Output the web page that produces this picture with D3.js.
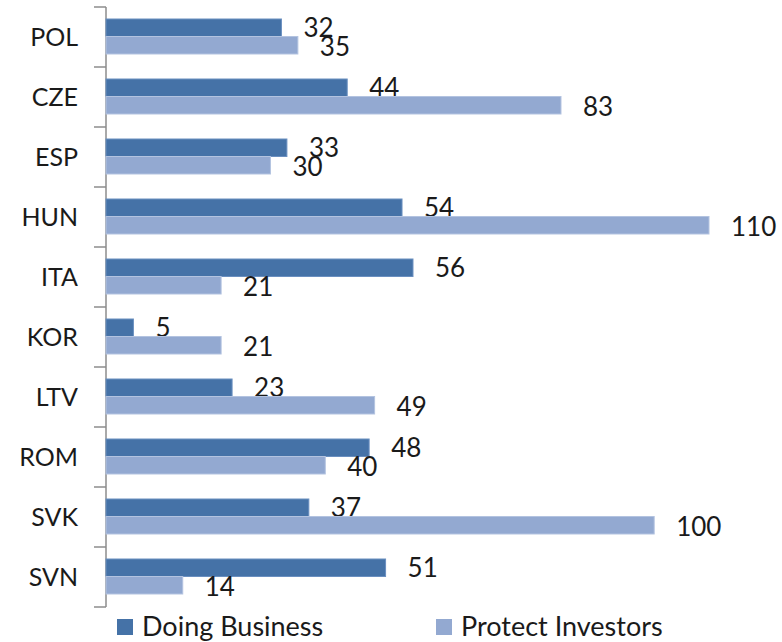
<!DOCTYPE html>
<html>
<head>
<meta charset="utf-8">
<script src="https://cdn.jsdelivr.net/npm/d3@7"></script>
<style>
  body { margin: 0; background: #fff; }
  svg { display: block; font-family: Lato, "Open Sans", sans-serif; }
</style>
</head>
<body>
<svg id="drawing_region"></svg>
<script>
const categories = ['POL', 'CZE', 'ESP', 'HUN', 'ITA', 'KOR', 'LTV', 'ROM', 'SVK', 'SVN'];
const seriesNames = ['Doing Business', 'Protect Investors'];
const doingBusiness = [32, 44, 33, 54, 56, 5, 23, 48, 37, 51];
const protectInvestors = [35, 83, 30, 110, 21, 21, 49, 40, 100, 14];
const colors = ['#4572a7', '#93a9d1'];

const width = 782, height = 642;

const svg = d3.select('#drawing_region')
    .attr('width', width)
    .attr('height', height);

const x = d3.scaleLinear()
    .domain([0, 110])
    .range([106, 709]);

const y = d3.scaleBand()
    .domain(categories)
    .range([7, 607]);

const sub = d3.scaleBand()
    .domain(seriesNames)
    .range([12, 47]);

const series = [doingBusiness, protectInvestors];

// axis line with ticks at category boundaries
const axis = svg.append('g');
axis.append('line')
    .attr('x1', 106).attr('x2', 106)
    .attr('y1', y.range()[0]).attr('y2', y.range()[1])
    .attr('stroke', '#8c8c8c')
    .attr('stroke-width', 1.5);

const bounds = categories.map(c => y(c)).concat([y.range()[1]]);
axis.selectAll('.tick')
    .data(bounds)
    .enter()
    .append('line')
    .attr('x1', 94).attr('x2', 106)
    .attr('y1', d => d).attr('y2', d => d)
    .attr('stroke', '#8c8c8c')
    .attr('stroke-width', 1.5);

axis.selectAll('.cat')
    .data(categories)
    .enter()
    .append('text')
    .attr('x', 78)
    .attr('y', d => y(d) + y.bandwidth() / 2)
    .attr('dy', '0.35em')
    .attr('text-anchor', 'end')
    .style('font-size', '25px')
    .style('fill', '#1a1a1a')
    .text(d => d);

// bars
series.forEach((vals, i) => {
    const g = svg.append('g');
    g.selectAll('rect')
        .data(vals)
        .enter()
        .append('rect')
        .attr('x', x(0))
        .attr('y', (d, j) => y(categories[j]) + sub(seriesNames[i]))
        .attr('width', d => x(d) - x(0))
        .attr('height', sub.bandwidth())
        .attr('fill', colors[i])
        .attr('stroke', i === 0 ? '#6a8fc0' : '#b3c3e0')
        .attr('stroke-width', 1);

    g.selectAll('text')
        .data(vals)
        .enter()
        .append('text')
        .attr('x', d => x(d) + 22)
        .attr('y', (d, j) => y(categories[j]) + sub(seriesNames[i]) + sub.bandwidth() / 2 + (i === 0 ? 0 : 2))
        .attr('dy', '0.35em')
        .style('font-size', '26px')
        .style('fill', '#1a1a1a')
        .text(d => d);
});

// legend
const legendX = [117, 436];
const legend = svg.selectAll('.legend')
    .data(seriesNames)
    .enter()
    .append('g')
    .attr('transform', (d, i) => `translate(${legendX[i]}, 619)`);

legend.append('rect')
    .attr('width', 16)
    .attr('height', 16)
    .attr('fill', (d, i) => colors[i]);

legend.append('text')
    .attr('x', 25)
    .attr('y', 8)
    .attr('dy', '0.35em')
    .style('font-size', '27px')
    .style('fill', '#1a1a1a')
    .text(d => d);
</script>
</body>
</html>
